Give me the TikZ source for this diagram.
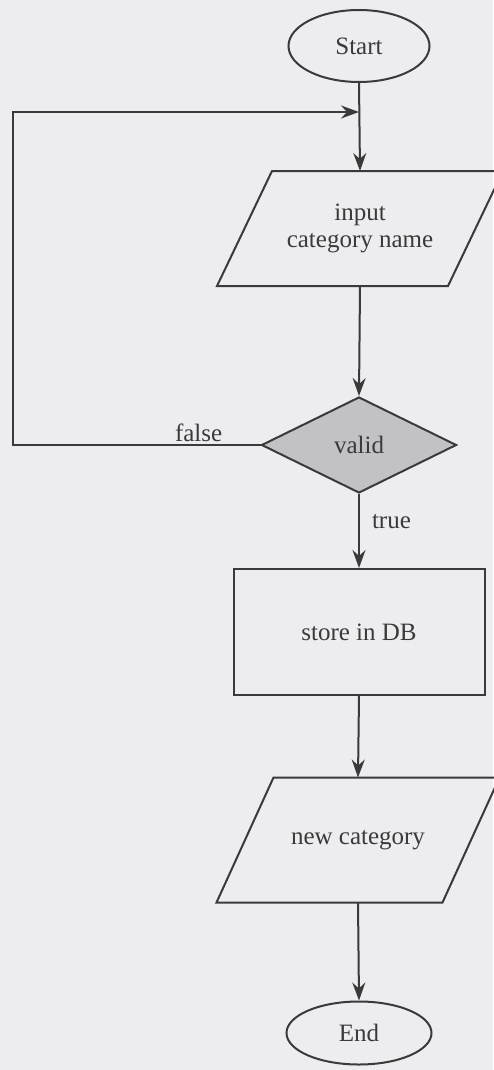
\documentclass[tikz,border=0pt]{standalone}
\usepackage{fontspec}
\setmainfont{Liberation Serif}
\usetikzlibrary{arrows.meta, shapes.geometric}
\definecolor{paper}{HTML}{EDEDEF}
\definecolor{ink}{HTML}{3A3A3A}
\definecolor{valgray}{HTML}{C2C2C4}

\begin{document}
\begin{tikzpicture}[
  x=0.5pt, y=-0.5pt,
  >={Stealth[length=9pt, width=6.5pt, inset=3pt]},
  term/.style={
    draw=ink, ellipse, line width=1pt, inner sep=0pt,
    font=\fontsize{12.5}{14}\selectfont, text=ink
  },
  iobox/.style={
    rectangle, inner sep=0pt, outer sep=0pt,
    align=center, font=\fontsize{12.5}{13.5}\selectfont, text=ink
  },
  ioline/.style={draw=ink, line width=1pt, line join=miter},
  procbox/.style={
    draw=ink, rectangle, line width=1pt, inner sep=0pt,
    minimum width=125.5pt, minimum height=63pt,
    font=\fontsize{12.5}{14}\selectfont, text=ink
  },
  decision/.style={
    draw=ink, diamond, fill=valgray, line width=1pt, inner sep=0pt,
    minimum width=97.5pt, minimum height=48pt,
    font=\fontsize{12.5}{14}\selectfont, text=ink
  },
  arr/.style={->, line width=1pt, ink},
  lbl/.style={font=\fontsize{12.5}{14}\selectfont, text=ink, inner sep=1pt},
]

% Background
\fill[paper] (0,0) rectangle (493,1070);
\useasboundingbox (0,0) rectangle (493,1070);

% =============================================
% Nodes
% =============================================
\node[term, minimum width=70.5pt, minimum height=36pt] (start) at (359,46) {Start};

% input parallelogram (body node, slanted outline drawn round it)
\node[iobox, minimum width=115.5pt, minimum height=57.5pt] (input) at (360,228.5)
  {input\\category name};
\draw[ioline] ([xshift=-13.75pt]input.south west) -- ([xshift=-13.75pt]input.south east)
  -- ([xshift=13.75pt]input.north east) -- ([xshift=13.75pt]input.north west) -- cycle;

\node[decision] (valid) at (359,445) {valid};

\node[procbox] (store) at (359,632) {store in DB};

% output parallelogram
\node[iobox, minimum width=113pt, minimum height=62.5pt] (newcat) at (358,840)
  {new category};
\draw[ioline] ([xshift=-14.25pt]newcat.south west) -- ([xshift=-14.25pt]newcat.south east)
  -- ([xshift=14.25pt]newcat.north east) -- ([xshift=14.25pt]newcat.north west) -- cycle;

\node[term, minimum width=72.5pt, minimum height=31.5pt] (end) at (359,1033) {End};

% =============================================
% Connectors
% =============================================
\draw[arr] (start.south) -- (input.north);
\draw[arr] (input.south) -- (valid.north);
\draw[arr] (valid.south) -- node[lbl, pos=0.37, anchor=west, xshift=5pt] {true} (store.north);
\draw[arr] (store.south) -- (newcat.north);
\draw[arr] (newcat.south) -- (end.north);

% false: back round to the input
\coordinate (loopcorner) at (13,112);
\coordinate (merge) at (start.south |- loopcorner);
\draw[arr] (valid.west) -| node[lbl, pos=0.125, above] {false} (loopcorner) -- (merge);

\end{tikzpicture}
\end{document}
